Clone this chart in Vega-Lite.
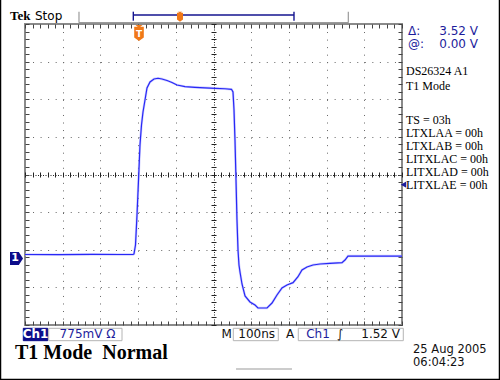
{
 "$schema": "https://vega.github.io/schema/vega-lite/v6.json",
 "width": 377,
 "height": 301,
 "autosize": "none",
 "padding": {"left": 25, "top": 24, "right": 98, "bottom": 55},
 "background": "white",
 "config": {
   "view": {"stroke": "#8a8a8a", "strokeWidth": 2, "fill": "white"},
   "axis": {"labels": false, "domain": false, "ticks": false, "grid": false}
 },
 "datasets": {
   "trace": [
     {"t":0,"v":0.082},{"t":90,"v":0.080},{"t":180,"v":0.084},{"t":250,"v":0.082},{"t":286.5,"v":0.082},
     {"t":289.1,"v":0.093},{"t":293.1,"v":0.278},{"t":297.1,"v":0.896},{"t":301.1,"v":1.617},{"t":305.0,"v":2.338},
     {"t":309.0,"v":2.750},{"t":313.0,"v":3.018},{"t":318.3,"v":3.265},{"t":323.6,"v":3.512},{"t":331.6,"v":3.636},
     {"t":342.2,"v":3.697},{"t":352.8,"v":3.712},{"t":363.4,"v":3.697},{"t":376.7,"v":3.666},{"t":389.9,"v":3.625},
     {"t":403.2,"v":3.574},{"t":424.4,"v":3.539},{"t":450.9,"v":3.526},{"t":477.5,"v":3.516},{"t":504.0,"v":3.506},
     {"t":530.5,"v":3.496},{"t":547.7,"v":3.485},{"t":551.7,"v":3.430},{"t":554.4,"v":3.059},{"t":557.0,"v":2.441},
     {"t":559.7,"v":1.617},{"t":562.3,"v":0.793},{"t":565.0,"v":0.175},{"t":567.6,"v":-0.134},{"t":570.3,"v":-0.278},
     {"t":575.6,"v":-0.525},{"t":583.6,"v":-0.772},{"t":596.8,"v":-0.896},{"t":610.1,"v":-0.958},{"t":618.0,"v":-1.020},
     {"t":631.3,"v":-1.020},{"t":641.9,"v":-1.020},{"t":655.2,"v":-0.917},{"t":668.4,"v":-0.752},{"t":681.7,"v":-0.608},
     {"t":694.9,"v":-0.546},{"t":710.9,"v":-0.498},{"t":724.1,"v":-0.375},{"t":734.7,"v":-0.237},{"t":748.0,"v":-0.175},
     {"t":763.9,"v":-0.134},{"t":782.5,"v":-0.113},{"t":809.0,"v":-0.099},{"t":840.8,"v":-0.087},{"t":848.8,"v":-0.031},
     {"t":856.8,"v":0.050},{"t":888.6,"v":0.050},{"t":941.6,"v":0.050},{"t":1000,"v":0.050}
   ],
   "frame": [{"t":-65,"t2":1258.6,"v":5.6,"v2":-2.492}],
   "graySeg": [
     {"t":143.2,"t2":857.6,"v":4.857,"v2":4.857},
     {"t":143.2,"t2":143.2,"v":5.084,"v2":4.857},
     {"t":857.6,"t2":857.6,"v":5.084,"v2":4.857},
     {"t":559.7,"t2":708.2,"v":-2.276,"v2":-2.276}
   ],
   "navySeg": [
     {"t":287.3,"t2":713.5,"v":5.016,"v2":5.016},
     {"t":287.3,"t2":287.3,"v":5.084,"v2":4.898},
     {"t":713.5,"t2":713.5,"v":5.084,"v2":4.898}
   ],
   "navyBox": [{"t":-4.5,"t2":60.2,"v":-1.438,"v2":-1.693}],
   "grayBox": [
     {"t":62.9,"t2":257.3,"v":-1.438,"v2":-1.693},
     {"t":552.5,"t2":671.9,"v":-1.438,"v2":-1.693},
     {"t":724.9,"t2":1003.4,"v":-1.438,"v2":-1.693}
   ],
   "readL": [{"t":1016,"v":4.686,"label":"Δ:"},{"t":1016,"v":4.418,"label":"@:"}],
   "readR": [{"t":1201.6,"v":4.686,"label":"3.52 V"},{"t":1201.6,"v":4.418,"label":"0.00 V"}],
   "info": [
     {"t":1010.6,"v":3.862,"label":"DS26324 A1"},
     {"t":1010.6,"v":3.553,"label":"T1 Mode"},
     {"t":1010.6,"v":2.853,"label":"TS = 03h"},
     {"t":1010.6,"v":2.585,"label":"LTXLAA = 00h"},
     {"t":1010.6,"v":2.317,"label":"LTXLAB = 00h"},
     {"t":1010.6,"v":2.050,"label":"LITXLAC = 00h"},
     {"t":1010.6,"v":1.782,"label":"LITXLAD = 00h"},
     {"t":1010.6,"v":1.514,"label":"LITXLAE = 00h"}
   ],
   "bigTitle": [{"t":-26.5,"v":-1.957,"label":"T1 Mode\u00a0\u00a0Normal"}],
   "date": [{"t":1029.2,"v":-1.895,"label":"25 Aug 2005"},{"t":1029.2,"v":-2.163,"label":"06:04:23"}],
   "tek": [{"t":-39.8,"v":4.995,"label":"Tek"}],
   "stop": [{"t":26.5,"v":4.995,"label":"Stop"}],
   "whiteBottom": [{"t":27.9,"v":-1.565,"label":"Ch1"}],
   "navyBottom": [{"t":165.8,"v":-1.565,"label":"775mV Ω"},{"t":777.2,"v":-1.565,"label":"Ch1"}],
   "blackBottom": [{"t":535.0,"v":-1.565,"label":"M"},{"t":614.6,"v":-1.565,"label":"100ns"},{"t":702.9,"v":-1.565,"label":"A"},{"t":835.5,"v":-1.565,"label":"∫"}],
   "rightBottom": [{"t":994.7,"v":-1.565,"label":"1.52 V"}],
   "ground": [{"t":-22.5,"v":0,"label":"1"}],
   "trigArrow": [{"t":1004,"v":1.52}],
   "orangeBig": [{"t":302.4,"v":4.645,"label":"T"}],
   "orangeSmall": [{"t":411.1,"v":4.981}]
 },
 "layer": [
   {"data": {"name": "frame"}, "mark": {"type": "rect", "fill": null, "stroke": "#000000", "strokeWidth": 1.5, "clip": false},
    "encoding": {
      "x": {"field": "t", "type": "quantitative", "scale": {"domain": [0, 1000], "nice": false, "zero": false}, "axis": null},
      "x2": {"field": "t2"},
      "y": {"field": "v", "type": "quantitative", "scale": {"domain": [-1.37, 4.83], "nice": false, "zero": false}, "axis": null},
      "y2": {"field": "v2"}}},
   {"data": {"name": "graySeg"}, "mark": {"type": "rule", "stroke": "#9a9a9a", "strokeWidth": 1.2},
    "encoding": {
      "x": {"field": "t", "type": "quantitative", "scale": {"domain": [0, 1000], "nice": false, "zero": false}, "axis": null},
      "x2": {"field": "t2"},
      "y": {"field": "v", "type": "quantitative", "scale": {"domain": [-1.37, 4.83], "nice": false, "zero": false}, "axis": null},
      "y2": {"field": "v2"}}},
   {"data": {"name": "navySeg"}, "mark": {"type": "rule", "stroke": "#14148f", "strokeWidth": 1.4},
    "encoding": {
      "x": {"field": "t", "type": "quantitative", "scale": {"domain": [0, 1000], "nice": false, "zero": false}, "axis": null},
      "x2": {"field": "t2"},
      "y": {"field": "v", "type": "quantitative", "scale": {"domain": [-1.37, 4.83], "nice": false, "zero": false}, "axis": null},
      "y2": {"field": "v2"}}},
   {"data": {"name": "navyBox"}, "mark": {"type": "rect", "fill": "#0c0c8a", "stroke": "#0c0c8a", "strokeWidth": 1},
    "encoding": {
      "x": {"field": "t", "type": "quantitative", "scale": {"domain": [0, 1000], "nice": false, "zero": false}, "axis": null},
      "x2": {"field": "t2"},
      "y": {"field": "v", "type": "quantitative", "scale": {"domain": [-1.37, 4.83], "nice": false, "zero": false}, "axis": null},
      "y2": {"field": "v2"}}},
   {"data": {"name": "grayBox"}, "mark": {"type": "rect", "fill": null, "stroke": "#b4b4b4", "strokeWidth": 1},
    "encoding": {
      "x": {"field": "t", "type": "quantitative", "scale": {"domain": [0, 1000], "nice": false, "zero": false}, "axis": null},
      "x2": {"field": "t2"},
      "y": {"field": "v", "type": "quantitative", "scale": {"domain": [-1.37, 4.83], "nice": false, "zero": false}, "axis": null},
      "y2": {"field": "v2"}}},
   {"mark": {"type": "rule", "stroke": "#14148f", "strokeWidth": 1.5, "strokeDash": [5, 3]},
    "encoding": {"y": {"datum": 3.52, "type": "quantitative", "scale": {"domain": [-1.37, 4.83], "nice": false, "zero": false}, "axis": null}}},
   {"mark": {"type": "rule", "stroke": "#14148f", "strokeWidth": 1.6},
    "encoding": {"y": {"datum": 0, "type": "quantitative", "scale": {"domain": [-1.37, 4.83], "nice": false, "zero": false}, "axis": null}}},
   {"data": {"name": "trace"}, "mark": {"type": "line", "stroke": "#a8a8ff", "strokeWidth": 2.4, "opacity": 0.55},
    "encoding": {
      "x": {"field": "t", "type": "quantitative", "scale": {"domain": [0, 1000], "nice": false, "zero": false},
            "axis": {"orient": "bottom", "title": null, "values": [100, 200, 300, 400, 600, 700, 800, 900], "grid": true, "gridColor": "#666666", "gridDash": [1, 6.54], "gridWidth": 1}},
      "y": {"field": "v", "type": "quantitative", "scale": {"domain": [-1.37, 4.83], "nice": false, "zero": false},
            "axis": {"orient": "left", "title": null, "values": [-0.595, 0.18, 0.955, 2.505, 3.28, 4.055], "grid": true, "gridColor": "#666666", "gridDash": [1, 6.54], "gridWidth": 1}}}},
   {"data": {"name": "trace"}, "mark": {"type": "line", "stroke": "#2828f6", "strokeWidth": 1.2},
    "encoding": {
      "x": {"field": "t", "type": "quantitative", "scale": {"domain": [0, 1000], "nice": false, "zero": false},
            "axis": {"orient": "top", "title": null, "ticks": true, "tickSize": -4, "tickColor": "#444444", "tickWidth": 1,
                     "values": [0,20,40,60,80,100,120,140,160,180,200,220,240,260,280,300,320,340,360,380,400,420,440,460,480,500,520,540,560,580,600,620,640,660,680,700,720,740,760,780,800,820,840,860,880,900,920,940,960,980,1000]}},
      "y": {"field": "v", "type": "quantitative", "scale": {"domain": [-1.37, 4.83], "nice": false, "zero": false},
            "axis": {"orient": "right", "title": null, "ticks": true, "tickSize": -4, "tickColor": "#444444", "tickWidth": 1,
                     "values": [-1.37,-1.215,-1.06,-0.905,-0.75,-0.595,-0.44,-0.285,-0.13,0.025,0.18,0.335,0.49,0.645,0.8,0.955,1.11,1.265,1.42,1.575,1.73,1.885,2.04,2.195,2.35,2.505,2.66,2.815,2.97,3.125,3.28,3.435,3.59,3.745,3.9,4.055,4.21,4.365,4.52,4.675,4.83]}}}},
   {"data": {"name": "readL"}, "mark": {"type": "text", "font": "DejaVu Sans", "fontSize": 12, "fill": "#1c1c9c", "align": "left", "baseline": "middle"},
    "encoding": {
      "x": {"field": "t", "type": "quantitative", "scale": {"domain": [0, 1000], "nice": false, "zero": false},
            "axis": {"orient": "bottom", "title": null, "ticks": true, "tickSize": -4, "tickColor": "#444444", "tickWidth": 1,
                     "values": [0,20,40,60,80,100,120,140,160,180,200,220,240,260,280,300,320,340,360,380,400,420,440,460,480,500,520,540,560,580,600,620,640,660,680,700,720,740,760,780,800,820,840,860,880,900,920,940,960,980,1000]}},
      "y": {"field": "v", "type": "quantitative", "scale": {"domain": [-1.37, 4.83], "nice": false, "zero": false},
            "axis": {"orient": "left", "title": null, "ticks": true, "tickSize": -4, "tickColor": "#444444", "tickWidth": 1,
                     "values": [-1.37,-1.215,-1.06,-0.905,-0.75,-0.595,-0.44,-0.285,-0.13,0.025,0.18,0.335,0.49,0.645,0.8,0.955,1.11,1.265,1.42,1.575,1.73,1.885,2.04,2.195,2.35,2.505,2.66,2.815,2.97,3.125,3.28,3.435,3.59,3.745,3.9,4.055,4.21,4.365,4.52,4.675,4.83]}},
      "text": {"field": "label"}}},
   {"data": {"name": "readR"}, "mark": {"type": "text", "font": "DejaVu Sans", "fontSize": 12, "fill": "#1c1c9c", "align": "right", "baseline": "middle"},
    "encoding": {
      "x": {"field": "t", "type": "quantitative", "scale": {"domain": [0, 1000], "nice": false, "zero": false},
            "axis": {"orient": "bottom", "title": null, "values": [500], "grid": true, "gridColor": "#222222", "gridDash": [1, 1.5], "gridWidth": 1}},
      "y": {"field": "v", "type": "quantitative", "scale": {"domain": [-1.37, 4.83], "nice": false, "zero": false},
            "axis": {"orient": "left", "title": null, "values": [1.73], "grid": true, "gridColor": "#222222", "gridDash": [1, 1.5], "gridWidth": 1}},
      "text": {"field": "label"}}},
   {"data": {"name": "info"}, "mark": {"type": "text", "font": "Liberation Serif", "fontSize": 12, "fill": "#000000", "align": "left", "baseline": "middle"},
    "encoding": {
      "x": {"field": "t", "type": "quantitative", "scale": {"domain": [0, 1000], "nice": false, "zero": false},
            "axis": {"orient": "bottom", "title": null, "offset": -150.5, "ticks": true, "tickSize": 2.5, "tickColor": "#222222", "tickWidth": 1,
                     "values": [0,20,40,60,80,100,120,140,160,180,200,220,240,260,280,300,320,340,360,380,400,420,440,460,480,500,520,540,560,580,600,620,640,660,680,700,720,740,760,780,800,820,840,860,880,900,920,940,960,980,1000]}},
      "y": {"field": "v", "type": "quantitative", "scale": {"domain": [-1.37, 4.83], "nice": false, "zero": false},
            "axis": {"orient": "left", "title": null, "offset": -188.5, "ticks": true, "tickSize": 2.5, "tickColor": "#222222", "tickWidth": 1,
                     "values": [-1.37,-1.215,-1.06,-0.905,-0.75,-0.595,-0.44,-0.285,-0.13,0.025,0.18,0.335,0.49,0.645,0.8,0.955,1.11,1.265,1.42,1.575,1.73,1.885,2.04,2.195,2.35,2.505,2.66,2.815,2.97,3.125,3.28,3.435,3.59,3.745,3.9,4.055,4.21,4.365,4.52,4.675,4.83]}},
      "text": {"field": "label"}}},
   {"data": {"name": "bigTitle"}, "mark": {"type": "text", "font": "Liberation Serif", "fontSize": 20, "fontWeight": "bold", "fill": "#000000", "align": "left", "baseline": "middle"},
    "encoding": {
      "x": {"field": "t", "type": "quantitative", "scale": {"domain": [0, 1000], "nice": false, "zero": false},
            "axis": {"orient": "top", "title": null, "offset": -150.5, "ticks": true, "tickSize": 2.5, "tickColor": "#222222", "tickWidth": 1,
                     "values": [0,20,40,60,80,100,120,140,160,180,200,220,240,260,280,300,320,340,360,380,400,420,440,460,480,500,520,540,560,580,600,620,640,660,680,700,720,740,760,780,800,820,840,860,880,900,920,940,960,980,1000]}},
      "y": {"field": "v", "type": "quantitative", "scale": {"domain": [-1.37, 4.83], "nice": false, "zero": false},
            "axis": {"orient": "right", "title": null, "offset": -188.5, "ticks": true, "tickSize": 2.5, "tickColor": "#222222", "tickWidth": 1,
                     "values": [-1.37,-1.215,-1.06,-0.905,-0.75,-0.595,-0.44,-0.285,-0.13,0.025,0.18,0.335,0.49,0.645,0.8,0.955,1.11,1.265,1.42,1.575,1.73,1.885,2.04,2.195,2.35,2.505,2.66,2.815,2.97,3.125,3.28,3.435,3.59,3.745,3.9,4.055,4.21,4.365,4.52,4.675,4.83]}},
      "text": {"field": "label"}}},
   {"data": {"name": "date"}, "mark": {"type": "text", "font": "DejaVu Sans", "fontSize": 11.5, "fill": "#111111", "align": "left", "baseline": "middle"},
    "encoding": {
      "x": {"field": "t", "type": "quantitative", "scale": {"domain": [0, 1000], "nice": false, "zero": false}, "axis": null},
      "y": {"field": "v", "type": "quantitative", "scale": {"domain": [-1.37, 4.83], "nice": false, "zero": false}, "axis": null},
      "text": {"field": "label"}}},
   {"data": {"name": "tek"}, "mark": {"type": "text", "font": "Liberation Serif", "fontSize": 13, "fontWeight": "bold", "fill": "#000000", "align": "left", "baseline": "middle"},
    "encoding": {
      "x": {"field": "t", "type": "quantitative", "scale": {"domain": [0, 1000], "nice": false, "zero": false}, "axis": null},
      "y": {"field": "v", "type": "quantitative", "scale": {"domain": [-1.37, 4.83], "nice": false, "zero": false}, "axis": null},
      "text": {"field": "label"}}},
   {"data": {"name": "stop"}, "mark": {"type": "text", "font": "DejaVu Sans", "fontSize": 12, "fill": "#000000", "align": "left", "baseline": "middle"},
    "encoding": {
      "x": {"field": "t", "type": "quantitative", "scale": {"domain": [0, 1000], "nice": false, "zero": false}, "axis": null},
      "y": {"field": "v", "type": "quantitative", "scale": {"domain": [-1.37, 4.83], "nice": false, "zero": false}, "axis": null},
      "text": {"field": "label"}}},
   {"data": {"name": "whiteBottom"}, "mark": {"type": "text", "font": "DejaVu Sans", "fontSize": 12, "fontWeight": "bold", "fill": "#ffffff", "align": "center", "baseline": "middle"},
    "encoding": {
      "x": {"field": "t", "type": "quantitative", "scale": {"domain": [0, 1000], "nice": false, "zero": false}, "axis": null},
      "y": {"field": "v", "type": "quantitative", "scale": {"domain": [-1.37, 4.83], "nice": false, "zero": false}, "axis": null},
      "text": {"field": "label"}}},
   {"data": {"name": "navyBottom"}, "mark": {"type": "text", "font": "DejaVu Sans", "fontSize": 12, "fill": "#1c1c9c", "align": "center", "baseline": "middle"},
    "encoding": {
      "x": {"field": "t", "type": "quantitative", "scale": {"domain": [0, 1000], "nice": false, "zero": false}, "axis": null},
      "y": {"field": "v", "type": "quantitative", "scale": {"domain": [-1.37, 4.83], "nice": false, "zero": false}, "axis": null},
      "text": {"field": "label"}}},
   {"data": {"name": "blackBottom"}, "mark": {"type": "text", "font": "DejaVu Sans", "fontSize": 12, "fill": "#111111", "align": "center", "baseline": "middle"},
    "encoding": {
      "x": {"field": "t", "type": "quantitative", "scale": {"domain": [0, 1000], "nice": false, "zero": false}, "axis": null},
      "y": {"field": "v", "type": "quantitative", "scale": {"domain": [-1.37, 4.83], "nice": false, "zero": false}, "axis": null},
      "text": {"field": "label"}}},
   {"data": {"name": "rightBottom"}, "mark": {"type": "text", "font": "DejaVu Sans", "fontSize": 12, "fill": "#111111", "align": "right", "baseline": "middle"},
    "encoding": {
      "x": {"field": "t", "type": "quantitative", "scale": {"domain": [0, 1000], "nice": false, "zero": false}, "axis": null},
      "y": {"field": "v", "type": "quantitative", "scale": {"domain": [-1.37, 4.83], "nice": false, "zero": false}, "axis": null},
      "text": {"field": "label"}}},
   {"data": {"name": "ground"}, "mark": {"type": "point", "shape": "M-1,-1L0.35,-1L1,0L0.35,1L-1,1Z", "size": 169, "filled": true, "fill": "#0c0c8a", "opacity": 1, "strokeWidth": 0},
    "encoding": {
      "x": {"field": "t", "type": "quantitative", "scale": {"domain": [0, 1000], "nice": false, "zero": false}, "axis": null},
      "y": {"field": "v", "type": "quantitative", "scale": {"domain": [-1.37, 4.83], "nice": false, "zero": false}, "axis": null}}},
   {"data": {"name": "ground"}, "mark": {"type": "text", "font": "DejaVu Sans", "fontSize": 11, "fontWeight": "bold", "fill": "#ffffff", "align": "center", "baseline": "middle", "dx": -1.5},
    "encoding": {
      "x": {"field": "t", "type": "quantitative", "scale": {"domain": [0, 1000], "nice": false, "zero": false}, "axis": null},
      "y": {"field": "v", "type": "quantitative", "scale": {"domain": [-1.37, 4.83], "nice": false, "zero": false}, "axis": null},
      "text": {"field": "label"}}},
   {"data": {"name": "trigArrow"}, "mark": {"type": "point", "shape": "triangle-left", "size": 40, "filled": true, "fill": "#1c1c9c", "opacity": 1, "strokeWidth": 0},
    "encoding": {
      "x": {"field": "t", "type": "quantitative", "scale": {"domain": [0, 1000], "nice": false, "zero": false}, "axis": null},
      "y": {"field": "v", "type": "quantitative", "scale": {"domain": [-1.37, 4.83], "nice": false, "zero": false}, "axis": null}}},
   {"data": {"name": "orangeBig"}, "mark": {"type": "point", "shape": "M-0.45,-1L0.45,-1L0.15,-0.78L0.6,-0.78L0.6,0.55L0,1L-0.6,0.55L-0.6,-0.78L-0.15,-0.78Z", "size": 256, "filled": true, "fill": "#f07818", "opacity": 1, "strokeWidth": 0},
    "encoding": {
      "x": {"field": "t", "type": "quantitative", "scale": {"domain": [0, 1000], "nice": false, "zero": false}, "axis": null},
      "y": {"field": "v", "type": "quantitative", "scale": {"domain": [-1.37, 4.83], "nice": false, "zero": false}, "axis": null}}},
   {"data": {"name": "orangeBig"}, "mark": {"type": "text", "font": "DejaVu Sans", "fontSize": 9, "fontWeight": "bold", "fill": "#ffffff", "align": "center", "baseline": "middle", "dy": 1},
    "encoding": {
      "x": {"field": "t", "type": "quantitative", "scale": {"domain": [0, 1000], "nice": false, "zero": false}, "axis": null},
      "y": {"field": "v", "type": "quantitative", "scale": {"domain": [-1.37, 4.83], "nice": false, "zero": false}, "axis": null},
      "text": {"field": "label"}}},
   {"data": {"name": "orangeSmall"}, "mark": {"type": "point", "shape": "M-0.45,-1L0.45,-1L0.15,-0.78L0.6,-0.78L0.6,0.55L0,1L-0.6,0.55L-0.6,-0.78L-0.15,-0.78Z", "size": 100, "filled": true, "fill": "#f07818", "opacity": 1, "strokeWidth": 0},
    "encoding": {
      "x": {"field": "t", "type": "quantitative", "scale": {"domain": [0, 1000], "nice": false, "zero": false}, "axis": null},
      "y": {"field": "v", "type": "quantitative", "scale": {"domain": [-1.37, 4.83], "nice": false, "zero": false}, "axis": null}}}
 ],
 "resolve": {"axis": {"x": "independent", "y": "independent"}}
}
